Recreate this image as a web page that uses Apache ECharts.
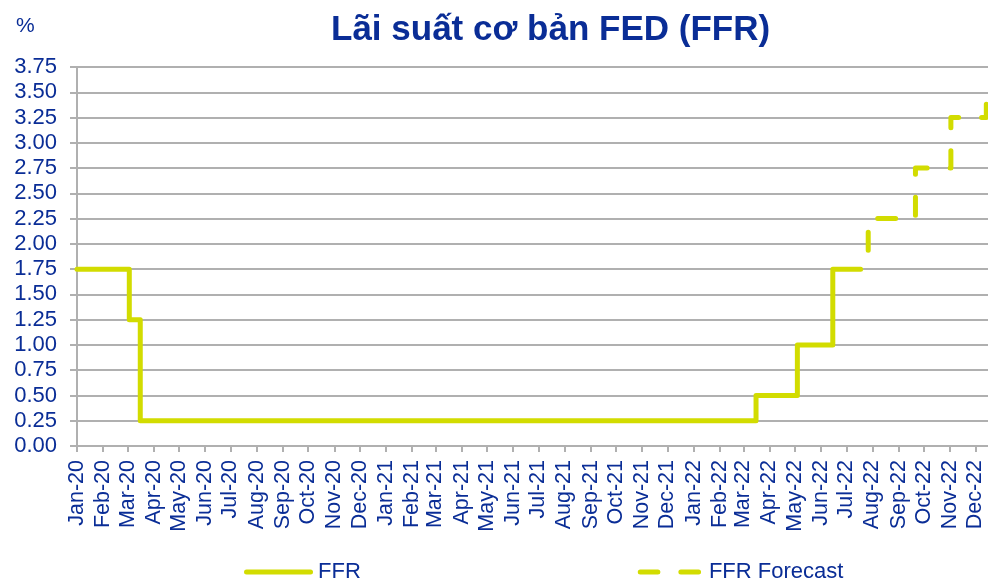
<!DOCTYPE html>
<html>
<head>
<meta charset="utf-8">
<script src="https://cdn.jsdelivr.net/npm/echarts@6/dist/echarts.min.js"></script>
<style>
  html, body { margin: 0; padding: 0; background: #fff; }
  #chart { width: 988px; height: 582px; }
</style>
</head>
<body>
<div id="chart"></div>
<script>
// tên tháng cho nhãn trục x
const monthNames = ["Jan", "Feb", "Mar", "Apr", "May", "Jun", "Jul", "Aug", "Sep", "Oct", "Nov", "Dec"];
const yTicks = [0, 3.75, 0.25]; // min, max, bước

// FFR: ngày thay đổi và mức lãi suất (áp dụng từ ngày đó)
const ffrDates = ["2020-01-01", "2020-03-03", "2020-03-16", "2022-03-16", "2022-05-04", "2022-06-15", "2022-07-18"];
const ffrValues = [1.75, 1.25, 0.25, 0.50, 1.00, 1.75, 1.75];

// FFR Forecast
const fcDates = ["2022-07-27", "2022-07-27", "2022-09-21", "2022-11-02", "2022-12-14", "2022-12-31"];
const fcValues = [1.75, 2.25, 2.75, 3.25, 3.50, 3.50];

const textBlue = "#0a2d96";
const lineColor = "#d2dc00";
const font = "Liberation Sans, Arial";

// biểu tượng chú giải: vạch liền và vạch đứt (bo tròn đầu)
const iconSolid = "path://M2.5,0 H66.5 A2.5,2.5 0 0 1 66.5,5 H2.5 A2.5,2.5 0 0 1 2.5,0 Z";
const iconDash = "path://M2.5,0 H20.1 A2.5,2.5 0 0 1 20.1,5 H2.5 A2.5,2.5 0 0 1 2.5,0 Z " +
                 "M43.1,0 H60.8 A2.5,2.5 0 0 1 60.8,5 H43.1 A2.5,2.5 0 0 1 43.1,0 Z";

const chart = echarts.init(document.getElementById("chart"));

const pairs = (xs, ys) => xs.map((x, i) => [x, ys[i]]);

const DAY = 24 * 3600 * 1000;

chart.setOption({
  animation: false,
  title: [
    {
      text: "Lãi suất cơ bản FED (FFR)",
      left: 331,
      top: 13,
      padding: 0,
      textStyle: { color: textBlue, fontSize: 35, fontWeight: "bold", fontFamily: font }
    },
    {
      text: "%",
      left: 16,
      top: 16,
      padding: 0,
      textStyle: { color: textBlue, fontSize: 21, fontWeight: "normal", fontFamily: font }
    }
  ],
  grid: { left: 77, right: 0, top: 67, bottom: 136, containLabel: false },
  legend: {
    left: 244,
    top: 561,
    padding: 0,
    itemWidth: 69,
    itemHeight: 5,
    itemGap: 277,
    textStyle: { color: textBlue, fontSize: 22, fontFamily: font },
    data: [
      { name: "FFR", icon: iconSolid, itemStyle: { color: lineColor } },
      { name: "FFR Forecast", icon: iconDash, itemStyle: { color: lineColor } }
    ]
  },
  xAxis: {
    type: "time",
    min: "2020-01-01",
    max: "2022-12-16",
    minInterval: 28 * DAY,
    maxInterval: 31 * DAY,
    axisLine: { lineStyle: { color: "#b0b0b0", width: 2 } },
    axisTick: { show: true, length: 6, lineStyle: { color: "#b0b0b0", width: 2 } },
    splitLine: { show: false },
    axisLabel: {
      rotate: 90,
      margin: 14,
      hideOverlap: false,
      color: textBlue,
      fontSize: 21.5,
      fontFamily: font,
      formatter: function (v) {
        const d = new Date(v);
        return monthNames[d.getMonth()] + "-" + String(d.getFullYear()).slice(2);
      }
    }
  },
  yAxis: {
    type: "value",
    min: yTicks[0],
    max: yTicks[1],
    interval: yTicks[2],
    axisLine: { show: true, lineStyle: { color: "#b0b0b0", width: 2 } },
    axisTick: { show: true, length: 7, lineStyle: { color: "#b0b0b0", width: 2 } },
    splitLine: { lineStyle: { color: "#b0b0b0", width: 2 } },
    axisLabel: {
      margin: 20,
      color: textBlue,
      fontSize: 22,
      fontFamily: font,
      formatter: v => v.toFixed(2)
    }
  },
  series: [
    {
      name: "FFR",
      type: "line",
      step: "end",
      symbol: "none",
      data: pairs(ffrDates, ffrValues),
      lineStyle: { color: lineColor, width: 5, cap: "round", join: "round" },
      itemStyle: { color: lineColor }
    },
    {
      name: "FFR Forecast",
      type: "line",
      symbol: "none",
      data: (function () {
        // điểm góc của đường bậc thang dự báo
        const out = [[fcDates[0], fcValues[0]]];
        for (let i = 1; i < fcDates.length; i++) {
          if (fcDates[i] !== fcDates[i - 1]) out.push([fcDates[i], fcValues[i - 1]]);
          out.push([fcDates[i], fcValues[i]]);
        }
        return out;
      })(),
      lineStyle: { color: lineColor, width: 5, type: [18, 23], dashOffset: 22, cap: "round", join: "round" },
      itemStyle: { color: lineColor }
    }
  ]
});
</script>
</body>
</html>
